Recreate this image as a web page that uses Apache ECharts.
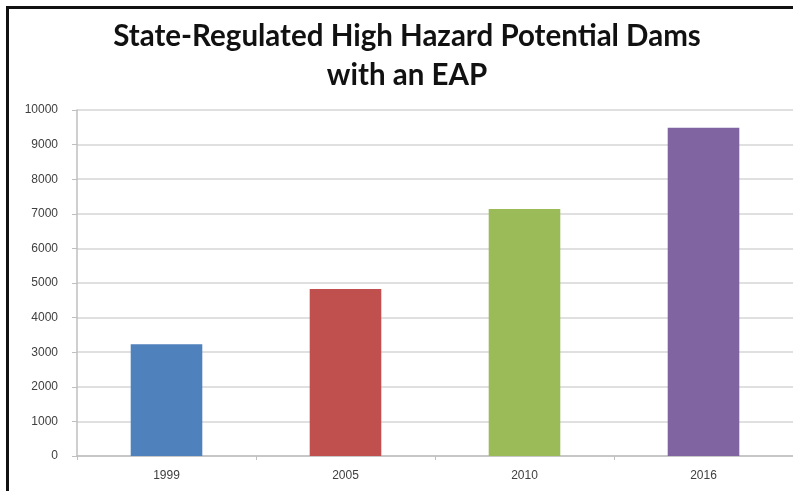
<!DOCTYPE html>
<html>
<head>
<meta charset="utf-8">
<script src="https://cdn.jsdelivr.net/npm/echarts@6/dist/echarts.min.js"></script>
<style>
html,body{margin:0;padding:0;background:#fff;}
#wrap{position:relative;width:793px;height:491px;overflow:hidden;}
#chart{position:absolute;left:0;top:0;width:793px;height:491px;}
#frame{position:absolute;left:6px;top:6px;width:800px;height:500px;border-left:3px solid #111;border-top:3px solid #111;pointer-events:none;}
</style>
</head>
<body>
<div id="wrap"><div id="chart"></div><div id="frame"></div></div>
<script>
var categories = ['1999', '2005', '2010', '2016'];
var damsWithEAP = [3230, 4830, 7140, 9490];
var barColors = ['#4F81BD', '#C0504D', '#9BBB59', '#8064A2'];
var yTicks = { min: 0, max: 10000, interval: 1000 };
var titleLines = ['State-Regulated High Hazard Potential Dams', 'with an EAP'];

var chart = echarts.init(document.getElementById('chart'), null, {renderer: 'canvas'});
chart.setOption({
  animation: false,
  backgroundColor: '#fff',
  title: {
    text: titleLines.join('\n'),
    left: 402, textAlign: 'center', top: 12,
    textStyle: { fontFamily: 'Lato', fontWeight: 'bold', fontSize: 29.5, color: '#111', lineHeight: 39 }
  },
  grid: { left: 77, right: -2, top: 110, bottom: 35, containLabel: false },
  xAxis: {
    type: 'category', data: categories,
    axisLine: { lineStyle: { color: '#bfbfbf', width: 1.5 } },
    axisTick: { show: true, length: 4, lineStyle: { color: '#bfbfbf' } },
    axisLabel: { color: '#404040', fontSize: 12, fontFamily: 'Liberation Sans', margin: 14 }
  },
  yAxis: {
    type: 'value', min: yTicks.min, max: yTicks.max, interval: yTicks.interval,
    axisLine: { show: true, lineStyle: { color: '#bfbfbf', width: 1.5 } },
    axisTick: { show: true, length: 5, lineStyle: { color: '#bfbfbf' } },
    axisLabel: { color: '#404040', fontSize: 12, fontFamily: 'Liberation Sans', margin: 19,
      formatter: function (v) { return String(v); } },
    splitLine: { show: true, lineStyle: { color: '#e0e0e0', width: 2 } }
  },
  series: [{
    type: 'bar', barWidth: '40%',
    data: damsWithEAP.map(function (v, i) { return { value: v, itemStyle: { color: barColors[i] } }; })
  }]
});
</script>
</body>
</html>
